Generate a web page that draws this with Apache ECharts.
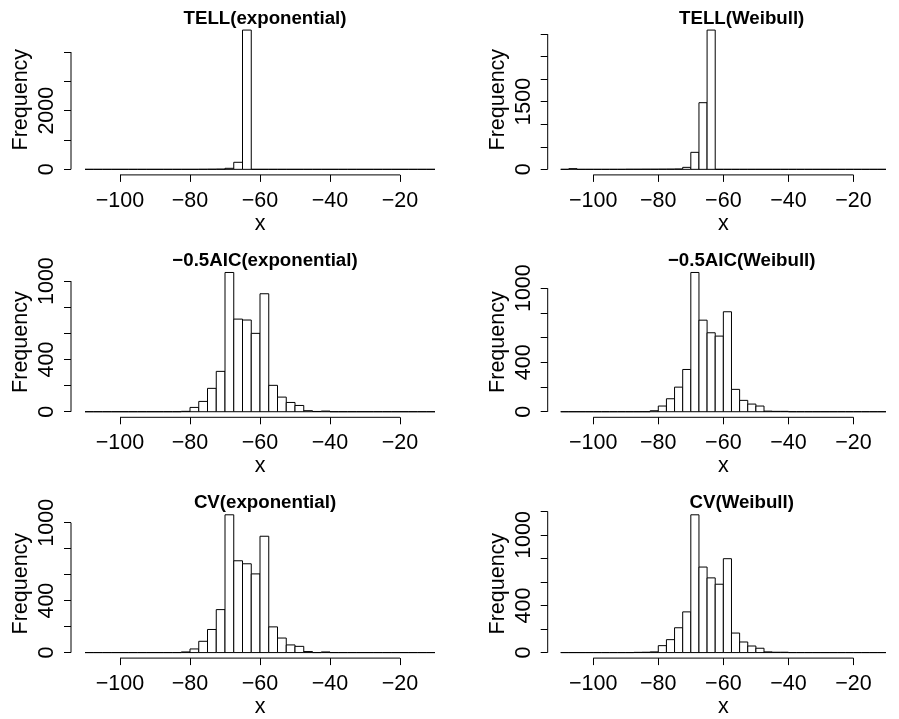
<!DOCTYPE html>
<html>
<head>
<meta charset="utf-8">
<script src="https://cdn.jsdelivr.net/npm/echarts@6/dist/echarts.min.js"></script>
<style>
  html, body { margin: 0; padding: 0; background: #fff; }
  #chart { width: 899px; height: 719px; }
</style>
</head>
<body>
<div id="chart"></div>
<script>
// Histogram break points (bin width 2.5)
const binEdges = [-110, -107.5, -105, -102.5, -100, -97.5, -95, -92.5, -90, -87.5,
  -85, -82.5, -80, -77.5, -75, -72.5, -70, -67.5, -65, -62.5,
  -60, -57.5, -55, -52.5, -50, -47.5, -45, -42.5, -40, -37.5,
  -35, -32.5, -30, -27.5, -25, -22.5, -20, -17.5, -15, -12.5, -10];

// Frequencies per bin, one array per criterion / model
const tellExp = [0, 0, 0, 0, 0, 0, 0, 0, 0, 0,
  0, 0, 0, 2, 4, 8, 35, 240, 4750, 0,
  0, 0, 0, 0, 0, 0, 0, 0, 0, 0,
  0, 0, 0, 0, 0, 0, 0, 0, 0, 0];
const tellWei = [0, 15, 0, 0, 0, 0, 0, 0, 2, 2,
  3, 3, 4, 5, 8, 44, 377, 1478, 3089, 0,
  0, 0, 0, 0, 0, 0, 0, 0, 0, 0,
  0, 0, 0, 0, 0, 0, 0, 0, 0, 0];
const aicExp = [0, 0, 0, 0, 0, 0, 0, 0, 0, 0,
  0, 3, 33, 79, 179, 309, 1066, 709, 702, 600,
  903, 202, 112, 71, 48, 8, 2, 5, 0, 0,
  0, 0, 0, 0, 0, 0, 0, 0, 0, 0];
const aicWei = [0, 0, 0, 0, 0, 0, 0, 0, 0, 0,
  0, 8, 46, 105, 199, 342, 1127, 741, 639, 612,
  809, 181, 92, 62, 46, 5, 3, 3, 0, 0,
  0, 0, 0, 0, 0, 0, 0, 0, 0, 0];
const cvExp = [0, 0, 0, 0, 0, 0, 0, 0, 0, 0,
  0, 5, 28, 87, 178, 331, 1061, 707, 684, 606,
  896, 198, 112, 59, 48, 8, 0, 5, 0, 0,
  0, 0, 0, 0, 0, 0, 0, 0, 0, 0];
const cvWei = [0, 0, 0, 0, 0, 0, 0, 0, 0, 2,
  3, 6, 59, 110, 211, 346, 1171, 727, 635, 581,
  798, 166, 90, 56, 37, 6, 3, 3, 0, 0,
  0, 0, 0, 0, 0, 0, 0, 0, 0, 0];

// Panel titles
const titles = ['TELL(exponential)', 'TELL(Weibull)',
  '\u22120.5AIC(exponential)', '\u22120.5AIC(Weibull)',
  'CV(exponential)', 'CV(Weibull)'];

// Axis ticks and labels
const xTicks = [-100, -80, -60, -40, -20];
const yTicksTellExp = [0, 1000, 2000, 3000, 4000];
const yLabelsTellExp = [0, 2000];
const yTicksTellWei = [0, 500, 1000, 1500, 2000, 2500, 3000];
const yLabelsTellWei = [0, 1500];
const yTicks1000 = [0, 200, 400, 600, 800, 1000];
const yTicks1200 = [0, 200, 400, 600, 800, 1000, 1200];
const yLabelsSmall = [0, 400, 1000];

const panels = [
  { counts: tellExp, yTicks: yTicksTellExp, yLabels: yLabelsTellExp },
  { counts: tellWei, yTicks: yTicksTellWei, yLabels: yLabelsTellWei },
  { counts: aicExp, yTicks: yTicks1000, yLabels: yLabelsSmall },
  { counts: aicWei, yTicks: yTicks1000, yLabels: yLabelsSmall },
  { counts: cvExp, yTicks: yTicks1000, yLabels: yLabelsSmall },
  { counts: cvWei, yTicks: yTicks1200, yLabels: yLabelsSmall }
];

// Layout of the 3 x 2 panel grid (pixels)
const FONT = '"Liberation Sans", Arial, Helvetica, sans-serif';
const colLeft = [71, 547.7];
const rowTop = [24.5, 266.9, 509.3];
const plotW = 378;
const plotH = 150.4;
const titleTop = [4, 246.4, 488.8];

const fmt = v => String(v).replace('-', '\u2212');

const option = {
  animation: false,
  backgroundColor: '#ffffff',
  title: [],
  grid: [],
  xAxis: [],
  yAxis: [],
  series: []
};

const xSpan = binEdges[binEdges.length - 1] - binEdges[0];
const xMin = binEdges[0] - 0.04 * xSpan;
const xMax = binEdges[binEdges.length - 1] + 0.04 * xSpan;

panels.forEach((p, i) => {
  const row = Math.floor(i / 2);
  const col = i % 2;
  const left = colLeft[col];
  const top = rowTop[row];
  const yMaxData = Math.max.apply(null, p.counts);
  const yMin = -0.04 * yMaxData;
  const yMax = 1.04 * yMaxData;

  option.title.push({
    text: titles[i],
    left: left + plotW / 2,
    top: titleTop[row],
    textAlign: 'center',
    textStyle: { fontFamily: FONT, fontWeight: 'bold', fontSize: 18.7, color: '#000' }
  });

  option.grid.push({ left: left, top: top, width: plotW, height: plotH, containLabel: false });

  option.xAxis.push({
    type: 'value',
    gridIndex: i,
    min: xMin,
    max: xMax,
    axisLine: { show: false, onZero: false },
    splitLine: { show: false },
    axisTick: { show: true, customValues: xTicks, length: 7, lineStyle: { color: '#000', width: 1 } },
    axisLabel: {
      customValues: xTicks, formatter: fmt, margin: 15,
      fontFamily: FONT, fontSize: 21.5, color: '#000'
    },
    name: 'x',
    nameLocation: 'middle',
    nameGap: 35,
    nameTextStyle: { fontFamily: FONT, fontSize: 21.5, color: '#000' }
  });

  option.yAxis.push({
    type: 'value',
    gridIndex: i,
    min: yMin,
    max: yMax,
    axisLine: { show: false, onZero: false },
    splitLine: { show: false },
    axisTick: { show: true, customValues: p.yTicks, length: 7, lineStyle: { color: '#000', width: 1 } },
    axisLabel: {
      customValues: p.yLabels, formatter: fmt, rotate: 90, margin: 13,
      fontFamily: FONT, fontSize: 21.5, color: '#000'
    },
    name: 'Frequency',
    nameLocation: 'middle',
    nameGap: 39,
    nameTextStyle: { fontFamily: FONT, fontSize: 21.5, color: '#000' }
  });

  // histogram bars: [left edge, right edge, count]
  const bins = p.counts.map((c, k) => [binEdges[k], binEdges[k + 1], c]);
  option.series.push({
    type: 'custom',
    xAxisIndex: i,
    yAxisIndex: i,
    clip: false,
    data: bins,
    encode: { x: [0, 1], y: 2 },
    renderItem: function (params, api) {
      const p0 = api.coord([api.value(0), api.value(2)]);
      const p1 = api.coord([api.value(1), 0]);
      return {
        type: 'rect',
        shape: { x: p0[0], y: p0[1], width: p1[0] - p0[0], height: p1[1] - p0[1] },
        style: { fill: '#fff', stroke: '#000', lineWidth: 1 }
      };
    }
  });

  // axis lines spanning only the tick range
  const yt = p.yTicks;
  option.series.push({
    type: 'custom',
    xAxisIndex: i,
    yAxisIndex: i,
    clip: false,
    silent: true,
    data: [[xTicks[0], xTicks[xTicks.length - 1], yt[0], yt[yt.length - 1]]],
    renderItem: function (params, api) {
      const a = api.coord([api.value(0), yMin]);
      const b = api.coord([api.value(1), yMin]);
      const c = api.coord([xMin, api.value(2)]);
      const d = api.coord([xMin, api.value(3)]);
      return {
        type: 'group',
        children: [
          { type: 'line', shape: { x1: a[0], y1: a[1], x2: b[0], y2: b[1] }, style: { stroke: '#000', lineWidth: 1 } },
          { type: 'line', shape: { x1: c[0], y1: c[1], x2: d[0], y2: d[1] }, style: { stroke: '#000', lineWidth: 1 } }
        ]
      };
    }
  });
});

const chart = echarts.init(document.getElementById('chart'), null, { renderer: 'canvas' });
chart.setOption(option);
</script>
</body>
</html>
